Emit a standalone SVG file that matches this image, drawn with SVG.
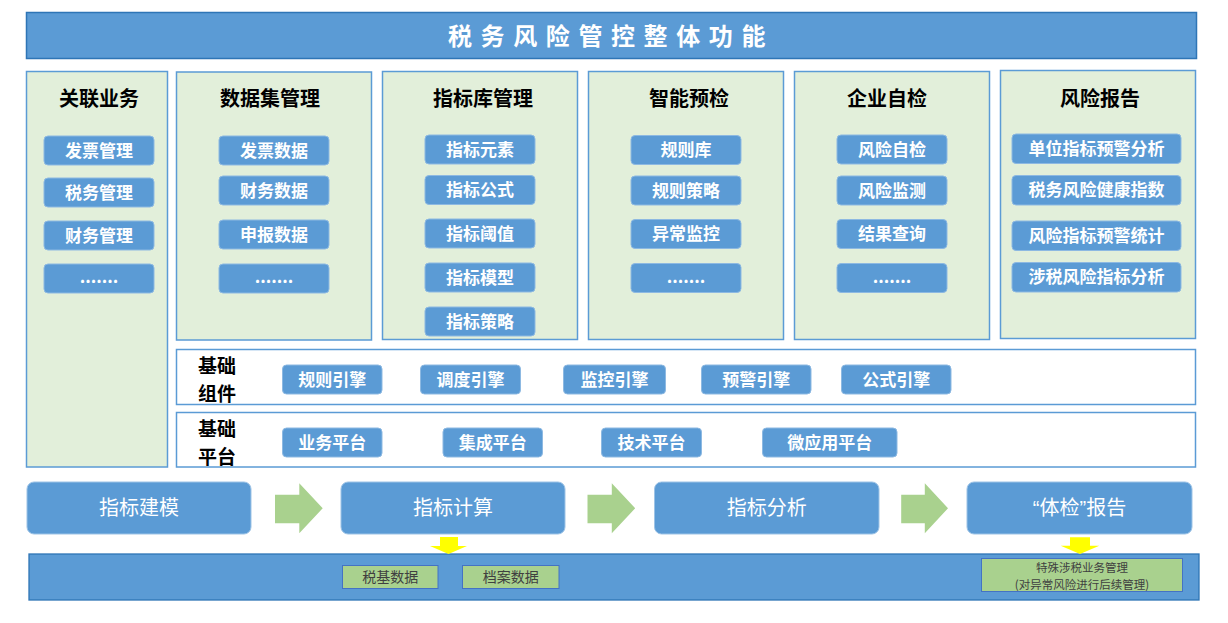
<svg xmlns="http://www.w3.org/2000/svg" width="1228" height="623" viewBox="0 0 1228 623">
<style>
text{font-family:"Noto Sans CJK SC","Microsoft YaHei",sans-serif}
.col{fill:#E2EFDA;stroke:#5B9BD5;stroke-width:1.5}
.row{fill:#FFFFFF;stroke:#5B9BD5;stroke-width:1.5}
.btn{fill:#5B9BD5;stroke:#8DB9E2;stroke-width:1}
.bt{fill:#FFFFFF;font-size:17px;font-weight:bold;text-anchor:middle}
.ct{fill:#000000;font-size:20px;font-weight:bold;text-anchor:middle}
.lt{fill:#000000;font-size:19px;font-weight:bold;text-anchor:middle}
.flow{fill:#5B9BD5;stroke:#9DC3E6;stroke-width:1}
.ft{fill:#FFFFFF;font-size:20px;text-anchor:middle}
.garrow{fill:#A9D18E}
.yarrow{fill:#FFFF00}
.gbox{fill:#A9D18E;stroke:#4472C4;stroke-width:1}
.gt{fill:#404040;font-size:14px;text-anchor:middle}
.st{fill:#404040;font-size:11.5px;text-anchor:middle}
</style>

<g id="title">
<rect x="26.5" y="12.5" width="1170" height="46" fill="#5B9BD5" stroke="#2E75B6" stroke-width="1.5"/>
<text x="448" y="45" fill="#FFFFFF" font-size="24" font-weight="bold" letter-spacing="8.6">税务风险管控整体功能</text>
</g>

<g id="col-guanlian">
<rect class="col" x="26.5" y="71.5" width="141" height="395.5"/>
<text class="ct" x="99" y="106">关联业务</text>
<rect class="btn" x="44" y="136" width="110" height="29" rx="4"/><text class="bt" x="99" y="156.5">发票管理</text>
<rect class="btn" x="44" y="178" width="110" height="29" rx="4"/><text class="bt" x="99" y="198.5">税务管理</text>
<rect class="btn" x="44" y="221" width="110" height="29" rx="4"/><text class="bt" x="99" y="241.5">财务管理</text>
<rect class="btn" x="44" y="264" width="110" height="29" rx="4"/><text class="bt" x="99" y="283">.......</text>
</g>

<g id="col-shujuji">
<rect class="col" x="176.5" y="72" width="195" height="268"/>
<text class="ct" x="270" y="106">数据集管理</text>
<rect class="btn" x="219" y="136" width="110" height="29" rx="4"/><text class="bt" x="274" y="156.5">发票数据</text>
<rect class="btn" x="219" y="176" width="110" height="29" rx="4"/><text class="bt" x="274" y="196.5">财务数据</text>
<rect class="btn" x="219" y="220" width="110" height="29" rx="4"/><text class="bt" x="274" y="240.5">申报数据</text>
<rect class="btn" x="219" y="264" width="110" height="29" rx="4"/><text class="bt" x="274" y="283">.......</text>
</g>

<g id="col-zhibiaoku">
<rect class="col" x="382.5" y="71.5" width="195" height="268"/>
<text class="ct" x="483" y="106">指标库管理</text>
<rect class="btn" x="425" y="135" width="110" height="29" rx="4"/><text class="bt" x="480" y="155.5">指标元素</text>
<rect class="btn" x="425" y="175.5" width="110" height="29" rx="4"/><text class="bt" x="480" y="196">指标公式</text>
<rect class="btn" x="425" y="219" width="110" height="29" rx="4"/><text class="bt" x="480" y="239.5">指标阈值</text>
<rect class="btn" x="425" y="263" width="110" height="29" rx="4"/><text class="bt" x="480" y="283.5">指标模型</text>
<rect class="btn" x="425" y="307" width="110" height="29" rx="4"/><text class="bt" x="480" y="327.5">指标策略</text>
</g>

<g id="col-zhineng">
<rect class="col" x="588.5" y="71.5" width="195" height="268"/>
<text class="ct" x="689" y="106">智能预检</text>
<rect class="btn" x="631" y="135.5" width="110" height="29" rx="4"/><text class="bt" x="686" y="156">规则库</text>
<rect class="btn" x="631" y="176" width="110" height="29" rx="4"/><text class="bt" x="686" y="196.5">规则策略</text>
<rect class="btn" x="631" y="219.5" width="110" height="29" rx="4"/><text class="bt" x="686" y="240">异常监控</text>
<rect class="btn" x="631" y="263.5" width="110" height="29" rx="4"/><text class="bt" x="686" y="282.5">.......</text>
</g>

<g id="col-qiye">
<rect class="col" x="794.5" y="71.5" width="195" height="268"/>
<text class="ct" x="887" y="106">企业自检</text>
<rect class="btn" x="837" y="135" width="110" height="29" rx="4"/><text class="bt" x="892" y="155.5">风险自检</text>
<rect class="btn" x="837" y="176" width="110" height="29" rx="4"/><text class="bt" x="892" y="196.5">风险监测</text>
<rect class="btn" x="837" y="219.5" width="110" height="29" rx="4"/><text class="bt" x="892" y="240">结果查询</text>
<rect class="btn" x="837" y="263.5" width="110" height="29" rx="4"/><text class="bt" x="892" y="282.5">.......</text>
</g>

<g id="col-fengxian">
<rect class="col" x="1000.5" y="70.5" width="195" height="268"/>
<text class="ct" x="1100" y="106">风险报告</text>
<rect class="btn" x="1012" y="134" width="169" height="29.5" rx="4"/><text class="bt" x="1096.5" y="154.8">单位指标预警分析</text>
<rect class="btn" x="1012" y="175.5" width="169" height="29.5" rx="4"/><text class="bt" x="1096.5" y="196.3">税务风险健康指数</text>
<rect class="btn" x="1012" y="221" width="169" height="29.5" rx="4"/><text class="bt" x="1096.5" y="241.8">风险指标预警统计</text>
<rect class="btn" x="1012" y="262.5" width="169" height="29.5" rx="4"/><text class="bt" x="1096.5" y="283.3">涉税风险指标分析</text>
</g>

<g id="row-zujian">
<rect class="row" x="176.5" y="349.5" width="1019" height="55"/>
<text class="lt" x="217" y="373">基础</text>
<text class="lt" x="217" y="400.8">组件</text>
<rect class="btn" x="282.5" y="365" width="99.5" height="29" rx="4"/><text class="bt" x="332.3" y="385.5">规则引擎</text>
<rect class="btn" x="420.5" y="365" width="100" height="29" rx="4"/><text class="bt" x="470.5" y="385.5">调度引擎</text>
<rect class="btn" x="563.5" y="365" width="102" height="29" rx="4"/><text class="bt" x="614.5" y="385.5">监控引擎</text>
<rect class="btn" x="701.5" y="365" width="109.5" height="29" rx="4"/><text class="bt" x="756.3" y="385.5">预警引擎</text>
<rect class="btn" x="841.5" y="365" width="109.5" height="29" rx="4"/><text class="bt" x="896.3" y="385.5">公式引擎</text>
</g>

<g id="row-pingtai">
<rect class="row" x="176.5" y="412.5" width="1019" height="54.5"/>
<text class="lt" x="217" y="436">基础</text>
<text class="lt" x="217" y="463.8">平台</text>
<rect class="btn" x="282.5" y="428" width="99.5" height="29" rx="4"/><text class="bt" x="332.3" y="448.5">业务平台</text>
<rect class="btn" x="443" y="428" width="99.5" height="29" rx="4"/><text class="bt" x="492.8" y="448.5">集成平台</text>
<rect class="btn" x="601.5" y="428" width="100" height="29" rx="4"/><text class="bt" x="651.5" y="448.5">技术平台</text>
<rect class="btn" x="762.5" y="428" width="134.5" height="29" rx="4"/><text class="bt" x="829.8" y="448.5">微应用平台</text>
</g>

<g id="flow-jianmo">
<rect class="flow" x="27" y="482" width="224" height="52" rx="7"/>
<text class="ft" x="139" y="515">指标建模</text>
</g>
<g id="flow-jisuan">
<rect class="flow" x="341" y="482" width="224" height="52" rx="7"/>
<text class="ft" x="453" y="515">指标计算</text>
</g>
<g id="flow-fenxi">
<rect class="flow" x="654.5" y="482" width="224.5" height="52" rx="7"/>
<text class="ft" x="766.8" y="515">指标分析</text>
</g>
<g id="flow-baogao">
<rect class="flow" x="967" y="482" width="225" height="52" rx="7"/>
<text class="ft" x="1079.5" y="515" style="font-family:'Liberation Sans','Noto Sans CJK SC',sans-serif">“体检”报告</text>
</g>

<g id="bottom-band">
<rect x="29" y="554" width="1170" height="46" fill="#5B9BD5" stroke="#2E75B6" stroke-width="1.3"/>
</g>
<g id="box-shuiji">
<rect class="gbox" x="342.5" y="565.5" width="95.5" height="23"/>
<text class="gt" x="390.3" y="582">税基数据</text>
</g>
<g id="box-dangan">
<rect class="gbox" x="462.5" y="565.5" width="96.5" height="23"/>
<text class="gt" x="510.8" y="582">档案数据</text>
</g>
<g id="box-teshu">
<rect class="gbox" x="981.5" y="558.5" width="201" height="33"/>
<text class="st" x="1082" y="572">特殊涉税业务管理</text>
<text class="st" x="1082" y="588.8">(对异常风险进行后续管理)</text>
</g>

<g id="connectors">
<polygon class="garrow" points="275,494.7 299.3,494.7 299.3,483.3 322.7,508.3 299.3,533.3 299.3,523.3 275,523.3"/>
<polygon class="garrow" points="587.5,494.7 611.8,494.7 611.8,483.3 635.2,508.3 611.8,533.3 611.8,523.3 587.5,523.3"/>
<polygon class="garrow" points="901.2,494.7 924.8,494.7 924.8,483.3 948,508.3 924.8,533.3 924.8,523.3 901.2,523.3"/>
<polygon class="yarrow" points="440,537 458,537 458,546 467,546 448.5,554 430,546 440,546"/>
<polygon class="yarrow" points="1070,537.3 1090,537.3 1090,545.7 1099.3,545.7 1080,554 1060.7,545.7 1070,545.7"/>
</g>
</svg>
